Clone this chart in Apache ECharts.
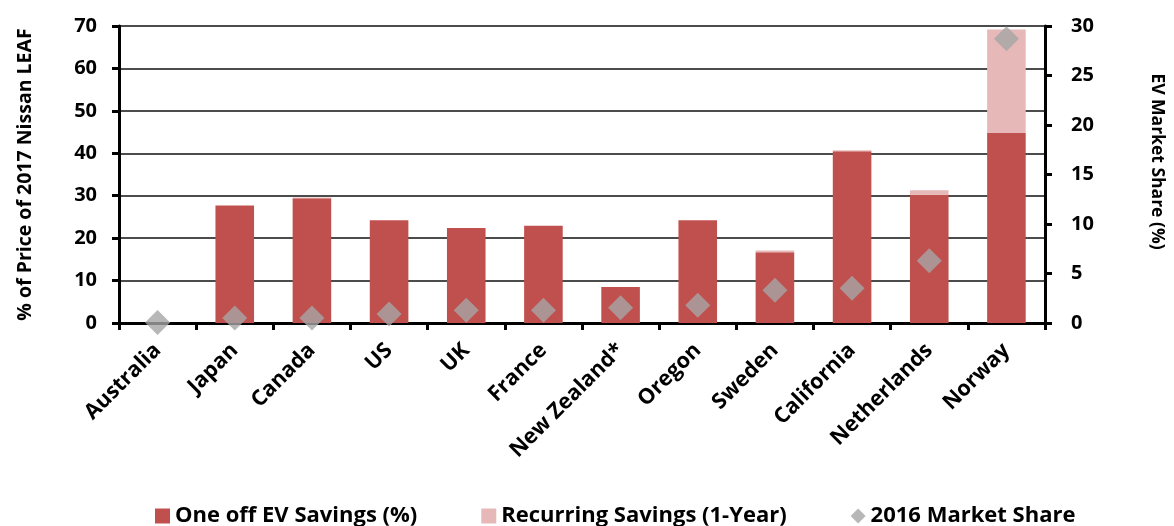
<!DOCTYPE html>
<html>
<head>
<meta charset="utf-8">
<script src="https://cdn.jsdelivr.net/npm/echarts@6/dist/echarts.min.js"></script>
<style>
html,body{margin:0;padding:0;background:#fff;}
#chart{width:1174px;height:526px;}
</style>
</head>
<body>
<div id="chart"></div>
<script>
var categories = ['Australia','Japan','Canada','US','UK','France','New Zealand*','Oregon','Sweden','California','Netherlands','Norway'];
var oneOffSavings = [0, 27.7, 29.4, 24.2, 22.4, 22.9, 8.5, 24.2, 16.7, 40.5, 30.2, 44.8];
var recurringSavings = [0, 0, 0.2, 0, 0, 0, 0, 0, 0.4, 0.2, 1.1, 24.4];
var marketShare = [0.05, 0.5, 0.5, 0.9, 1.3, 1.3, 1.55, 1.8, 3.3, 3.5, 6.3, 28.7];
var leftTicks = [0, 10, 20, 30, 40, 50, 60, 70];
var rightTicks = [0, 5, 10, 15, 20, 25, 30];

var FONT = 'Open Sans';
var chart = echarts.init(document.getElementById('chart'));
chart.setOption({
  animation: false,
  textStyle: {fontFamily: FONT},
  grid: {left: 119, right: 112, top: 26, bottom: 203, containLabel: false},
  legend: {
    left: 150, top: 500,
    itemWidth: 15, itemHeight: 15, itemGap: 64,
    textStyle: {fontFamily: FONT, fontWeight: 'bold', fontSize: 22, color: '#000'},
    data: [
      {name: 'One off EV Savings (%)', icon: 'rect'},
      {name: 'Recurring Savings (1-Year)', icon: 'rect'},
      {name: '2016 Market Share', icon: 'diamond'}
    ]
  },
  xAxis: {
    type: 'category',
    data: categories,
    boundaryGap: true,
    axisLine: {lineStyle: {color: '#000', width: 3}},
    axisTick: {show: true, alignWithLabel: false, length: 7, lineStyle: {color: '#000', width: 3}},
    axisLabel: {rotate: 45, interval: 0, margin: 24, fontFamily: FONT, fontWeight: 'bold', fontSize: 21.5, color: '#000'}
  },
  yAxis: [{
    type: 'value', min: 0, max: 70, interval: 10,
    name: '% of Price of 2017 Nissan LEAF',
    nameLocation: 'middle', nameGap: 84, nameRotate: 90,
    nameTextStyle: {fontFamily: FONT, fontWeight: 'bold', fontSize: 19.5, color: '#000'},
    axisLine: {show: true, lineStyle: {color: '#000', width: 3}},
    axisTick: {show: true, length: 7, lineStyle: {color: '#000', width: 3}},
    axisLabel: {margin: 22, fontFamily: FONT, fontWeight: 'bold', fontSize: 20, color: '#000',
      formatter: function(v){ return leftTicks.indexOf(v) >= 0 ? String(v) : ''; }},
    splitLine: {show: true, lineStyle: {color: '#111', width: 1.6}}
  }, {
    type: 'value', min: 0, max: 30, interval: 5,
    name: 'EV Market Share (%)',
    nameLocation: 'middle', nameGap: 103, nameRotate: -90,
    nameTextStyle: {fontFamily: FONT, fontWeight: 'bold', fontSize: 17.5, color: '#000', padding: [0, 26, 0, 0]},
    axisLine: {show: true, lineStyle: {color: '#000', width: 3}},
    axisTick: {show: true, length: 7, lineStyle: {color: '#000', width: 3}},
    axisLabel: {margin: 26, fontFamily: FONT, fontWeight: 'bold', fontSize: 20, color: '#000',
      formatter: function(v){ return rightTicks.indexOf(v) >= 0 ? String(v) : ''; }},
    splitLine: {show: false}
  }],
  series: [{
    name: 'One off EV Savings (%)', type: 'bar', stack: 'sav',
    data: oneOffSavings, barWidth: '50%',
    itemStyle: {color: '#C0504D'}
  }, {
    name: 'Recurring Savings (1-Year)', type: 'bar', stack: 'sav',
    data: recurringSavings, barWidth: '50%',
    itemStyle: {color: '#E6B9B8'}
  }, {
    name: '2016 Market Share', type: 'scatter', yAxisIndex: 1,
    data: marketShare, symbol: 'diamond', symbolSize: 25,
    itemStyle: {color: '#A5A5A5'}, z: 5
  }]
});
</script>
</body>
</html>
